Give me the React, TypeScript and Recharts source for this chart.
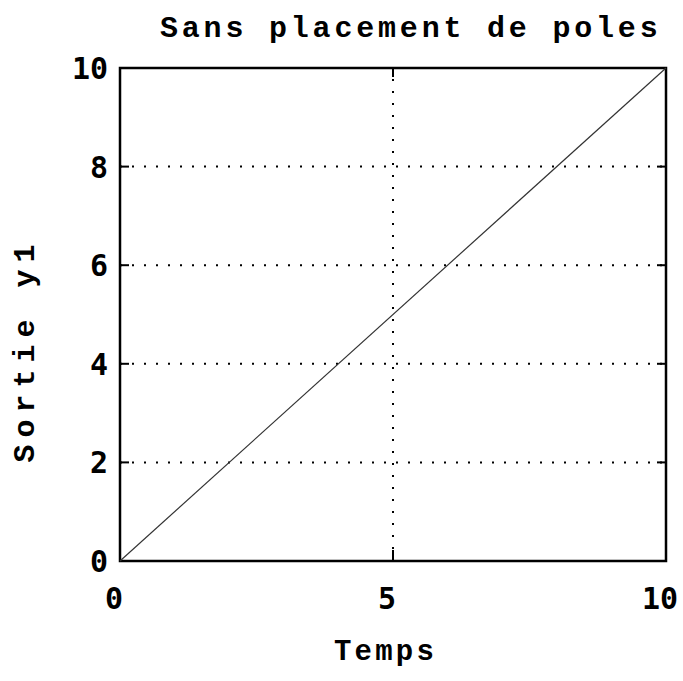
import React from 'react';
import { LineChart, Line, XAxis, YAxis, ReferenceLine, ReferenceArea } from 'recharts';

const temps = [0, 10];
const sortie = [0, 10];
const xTicks = [0, 5, 10];
const yTicks = [0, 2, 4, 6, 8, 10];
const yGrid = [2, 4, 6, 8];
const xGrid = [5];

const data = temps.map((t, i) => ({ t, y: sortie[i] }));

const W = 683;
const H = 681;
const M = { top: 68, right: 17, bottom: 60, left: 60 };
const X_AXIS_H = 60;
const Y_AXIS_W = 60;
const plotLeft = M.left + Y_AXIS_W;
const plotRight = W - M.right;
const plotTop = M.top;
const plotBottom = H - M.bottom - X_AXIS_H;

const mono = '"Liberation Mono", "DejaVu Sans Mono", monospace';
const tickFont = { fontFamily: '"DejaVu Sans Mono", monospace', fontWeight: 700, fontSize: 30, fill: '#000' };

const Y_GAP = 12;
const X_GAP = 24;

// left labels + inward ticks on both vertical sides
const YTick = (props: any) => {
  const { x, y, payload } = props;
  const v = payload.value;
  const inner = v !== 0 && v !== 10;
  return (
    <g>
      {inner && <line x1={plotLeft} x2={plotLeft + 9} y1={y} y2={y} stroke="#000" strokeWidth={2} />}
      {inner && <line x1={plotRight - 9} x2={plotRight} y1={y} y2={y} stroke="#000" strokeWidth={2} />}
      <text x={x} y={y} dy={11} textAnchor="end" {...tickFont}>{v}</text>
    </g>
  );
};

const XTick = (props: any) => {
  const { x, y, payload } = props;
  const v = payload.value;
  const inner = v !== 0 && v !== 10;
  return (
    <g>
      {inner && <line x1={x} x2={x} y1={plotBottom} y2={plotBottom - 11} stroke="#000" strokeWidth={2} />}
      {inner && <line x1={x} x2={x} y1={plotTop} y2={plotTop + 9} stroke="#000" strokeWidth={2} />}
      <text x={x - 6} y={y} dy={24} textAnchor="middle" {...tickFont}>{v}</text>
    </g>
  );
};

const App: React.FC = () => {
  return (
    <div style={{ position: 'absolute', left: 0, top: 0, width: W, height: H, background: '#fff' }}>
      <div style={{ position: 'absolute', left: 160, top: 12, fontFamily: mono, fontWeight: 700, fontSize: 30, letterSpacing: 3.8, whiteSpace: 'nowrap', color: '#000' }}>
        Sans placement de poles
      </div>
      <div style={{ position: 'absolute', left: 334, top: 636, fontFamily: mono, fontWeight: 700, fontSize: 29, letterSpacing: 3.2, color: '#000' }}>
        Temps
      </div>
      <div style={{ position: 'absolute', left: 26, top: 350, width: 0, height: 0 }}>
        <div style={{ position: 'absolute', transform: 'translate(-50%, -50%) rotate(-90deg)', fontFamily: mono, fontWeight: 700, fontSize: 30, letterSpacing: 7, whiteSpace: 'nowrap', color: '#000' }}>
          Sortie y1
        </div>
      </div>
      <LineChart width={W} height={H} data={data} margin={M}>
        <XAxis dataKey="t" type="number" domain={[0, 10]} ticks={xTicks} tickLine={false} tickSize={0} tickMargin={X_GAP}
          axisLine={false} tick={<XTick />} height={X_AXIS_H} interval={0} />
        <YAxis type="number" domain={[0, 10]} ticks={yTicks} tickLine={false} tickSize={0} tickMargin={Y_GAP}
          axisLine={false} tick={<YTick />} width={Y_AXIS_W} interval={0} />
        {yGrid.map(v => (
          <ReferenceLine key={'y' + v} y={v} stroke="#000" strokeWidth={2} strokeDasharray="2 10" />
        ))}
        {xGrid.map(v => (
          <ReferenceLine key={'x' + v} x={v} stroke="#000" strokeWidth={2} strokeDasharray="2 10" />
        ))}
        <ReferenceArea x1={0} x2={10} y1={0} y2={10} fill="none" stroke="#000" strokeWidth={2.5} fillOpacity={0} />
        <Line dataKey="y" stroke="#333" strokeWidth={1.2} dot={false} isAnimationActive={false} />
      </LineChart>
    </div>
  );
};

export default App;
